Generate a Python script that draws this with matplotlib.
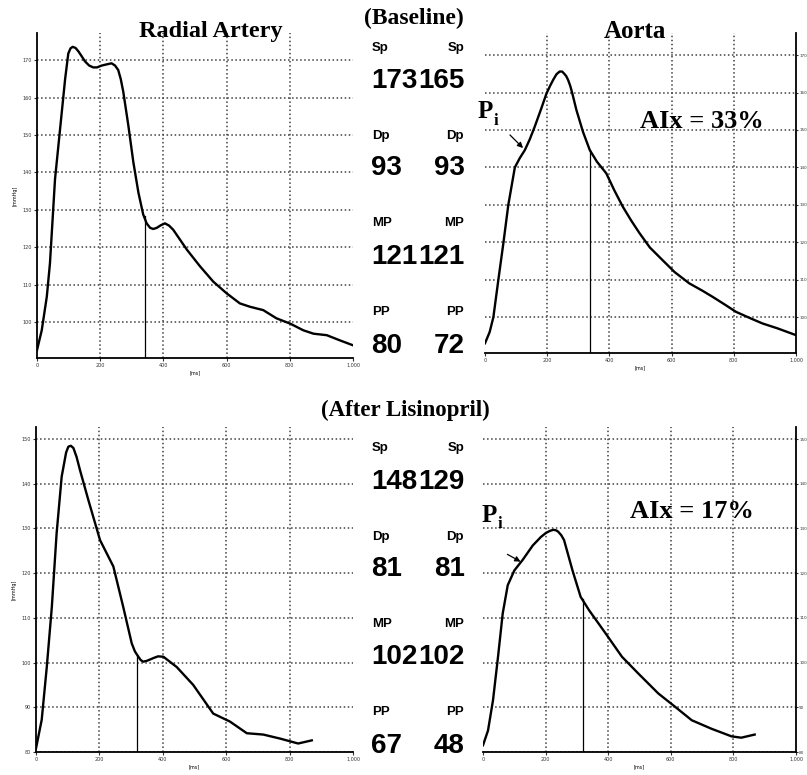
import matplotlib.pyplot as plt

# waveform samples: time [ms], pressure [mmHg]
radial_base_t = [0, 15, 31, 41, 57, 73, 89, 99, 106, 113, 122, 131, 142, 152, 165, 178, 190, 205, 220, 236,
                 247, 257, 265, 273, 289, 305, 321, 336, 347, 358, 368, 379, 392, 405, 418, 431, 474, 516, 558,
                 600, 642, 674, 716, 758, 801, 843, 875, 917, 959, 1000]
radial_base_p = [92.5, 97.8, 106.8, 115.7, 138.2, 151.6, 165, 171.8, 173.2, 173.6, 173.3, 172.4, 171, 169.7,
                 168.6, 168.1, 168.1, 168.6, 168.9, 169.2, 168.6, 167.4, 165, 161.6, 152.6, 142.7, 134.6, 128.8,
                 126.4, 125.2, 124.9, 125.2, 125.9, 126.4, 125.8, 124.7, 119.4, 114.9, 110.8, 107.7, 105,
                 104.1, 103.2, 101, 99.6, 97.8, 96.9, 96.5, 95.1, 93.8]

aorta_base_t = [0, 15, 27, 43, 59, 75, 96, 112, 128, 144, 160, 180, 198, 210, 220, 230, 240, 248, 255, 261,
                267, 274, 280, 294, 315, 337, 360, 390, 415, 443, 470, 497, 530, 571, 610, 657, 700, 732, 770,
                807, 850, 892, 940, 999]
aorta_base_p = [93, 96, 100, 110, 119.7, 130, 140, 142.5, 144.6, 147.5, 150.9, 155.5, 159.8, 161.9, 163.5,
                164.9, 165.6, 165.6, 165, 164.4, 163.4, 161.8, 160, 155.3, 149.5, 144.6, 141.5, 138.4, 134,
                129.5, 125.8, 122.4, 118.6, 115.2, 112, 109, 107, 105.4, 103.4, 101.4, 99.8, 98.3, 97, 95.2]

radial_after_t = [0, 18, 34, 50, 65, 81, 95, 102, 110, 118, 128, 139, 165, 202, 244, 275, 302, 312, 323, 330,
                  338, 350, 370, 385, 402, 444, 496, 559, 612, 665, 717, 770, 827, 870]
radial_after_p = [80.8, 87.2, 99, 112.5, 128.9, 141.6, 147, 148.3, 148.5, 148, 146, 143, 136.4, 127.4,
                  121.5, 112.5, 104.3, 102.5, 101.3, 100.6, 100.2, 100.4, 101, 101.4, 101.3, 99, 95, 88.6,
                  86.8, 84.2, 83.9, 83, 81.9, 82.6]

aorta_after_t = [0, 16, 32, 48, 63, 79, 100, 127, 159, 185, 201, 215, 225, 233, 240, 250, 259, 286, 312,
                 339, 392, 444, 497, 560, 614, 667, 730, 794, 825, 868]
aorta_after_p = [81.5, 84.8, 91.6, 101.3, 111, 117.3, 120.6, 123, 126.2, 128.1, 129, 129.5, 129.7, 129.6,
                 129.3, 128.5, 127.4, 120.6, 114.7, 111.7, 106.5, 101.3, 97.5, 93.1, 90.1, 87.1, 85.2, 83.5,
                 83.2, 83.9]

# foot-of-reflection markers (time, pressure where the line meets the curve)
marker_t = [342, 337, 320, 318]
marker_p = [128.3, 144.6, 101.4, 114.2]

# values printed between the panels
labels = ['Sp', 'Dp', 'MP', 'PP']
base_radial = ['173', '93', '121', '80']
base_aorta = ['165', '93', '121', '72']
after_radial = ['148', '81', '102', '67']
after_aorta = ['129', '81', '102', '48']

W, H = 807, 775
fig = plt.figure(figsize=(W / 100, H / 100), dpi=100)
serif = 'Liberation Serif'
sans = 'Liberation Sans'


def make_axes(x0, y0, x1, y1, ylim, yticks, right):
    ax = fig.add_axes([x0 / W, 1 - y1 / H, (x1 - x0) / W, (y1 - y0) / H])
    ax.set_xlim(0, 1000)
    ax.set_ylim(*ylim)
    ax.set_xticks([0, 200, 400, 600, 800, 1000])
    ax.set_xticklabels(['0', '200', '400', '600', '800', '1,000'])
    ax.set_yticks(yticks)
    for x in [200, 400, 600, 800]:
        ax.axvline(x, color='0.25', ls=':', lw=1.1, zorder=1)
    for y in yticks:
        ax.axhline(y, color='0.25', ls=':', lw=1.1, zorder=1)
    ax.spines['top'].set_visible(False)
    ax.spines['bottom'].set_linewidth(1.3)
    if right:
        ax.spines['left'].set_visible(False)
        ax.spines['right'].set_linewidth(1.3)
        ax.yaxis.tick_right()
        ax.tick_params(axis='y', labelsize=3, length=1.5, pad=0.8)
    else:
        ax.spines['right'].set_visible(False)
        ax.spines['left'].set_linewidth(1.3)
        ax.set_ylabel('[mmHg]', fontsize=3.5, labelpad=4)
        ax.tick_params(axis='y', labelsize=3.5, length=2, pad=1.5)
    ax.tick_params(axis='x', labelsize=3.5, length=2, pad=1.5)
    ax.tick_params(width=0.8, colors='0.2')
    ax.set_xlabel('[ms]', fontsize=3.5, labelpad=2)
    return ax


top_ticks = [100, 110, 120, 130, 140, 150, 160, 170]
bot_ticks = [80, 90, 100, 110, 120, 130, 140, 150]

axes = [
    make_axes(37, 33, 353, 358, (90.4, 177.3), top_ticks, False),
    make_axes(485, 33, 796, 353, (90.4, 175.9), top_ticks, True),
    make_axes(36, 427, 353, 752, (80, 152.7), bot_ticks, False),
    make_axes(483, 427, 796, 752, (80, 152.7), bot_ticks, True),
]
series = [(radial_base_t, radial_base_p), (aorta_base_t, aorta_base_p),
          (radial_after_t, radial_after_p), (aorta_after_t, aorta_after_p)]

for ax, (t, p), mt, mp in zip(axes, series, marker_t, marker_p):
    ax.plot(t, p, color='black', lw=1.7, zorder=3, solid_joinstyle='round')
    ax.plot([mt, mt], [ax.get_ylim()[0], mp], color='black', lw=0.9, zorder=2)


def ftext(x, y, s, **kw):
    fig.text(x / W, 1 - y / H, s, **kw)


ftext(211, 31, 'Radial Artery', family=serif, weight='bold', fontsize=17.5, ha='center', va='center')
ftext(635, 31, 'Aorta', family=serif, weight='bold', fontsize=18, ha='center', va='center')
ftext(414, 18, '(Baseline)', family=serif, weight='bold', fontsize=17, ha='center', va='center')
ftext(405, 410, '(After Lisinopril)', family=serif, weight='bold', fontsize=16.5, ha='center', va='center')

ftext(702, 121, 'AIx = 33%', family=serif, weight='bold', fontsize=19, ha='center', va='center')
ftext(692, 512, 'AIx = 17%', family=serif, weight='bold', fontsize=19, ha='center', va='center')

# P_i labels with arrows
for (px, py), (a0, a1) in [((485, 112), ((508, 133), (525, 150))),
                           ((489, 515), ((505, 553), (523, 563)))]:
    ftext(px, py, 'P', family=serif, weight='bold', fontsize=18, ha='center', va='center')
    ftext(px + 11, py + 9, 'i', family=serif, weight='bold', fontsize=12, ha='center', va='center')
    fig.add_artist(plt.Annotation('', xy=(a1[0] / W, 1 - a1[1] / H), xytext=(a0[0] / W, 1 - a0[1] / H),
                                  xycoords='figure fraction',
                                  arrowprops=dict(arrowstyle='-|>', color='black', lw=0.9,
                                                  mutation_scale=8)))

# number columns
top_label_y = [48, 136, 223, 312]
top_num_y = [81, 168, 257, 346]
bot_label_y = [448, 537, 624, 712]
bot_num_y = [482, 569, 657, 746]

for lab_ys, num_ys, left_vals, right_vals in [(top_label_y, top_num_y, base_radial, base_aorta),
                                              (bot_label_y, bot_num_y, after_radial, after_aorta)]:
    for lab, ly, ny, lv, rv in zip(labels, lab_ys, num_ys, left_vals, right_vals):
        ftext(372, ly, lab, family=sans, weight='bold', fontsize=9.5, ha='left', va='center')
        ftext(464, ly, lab, family=sans, weight='bold', fontsize=9.5, ha='right', va='center')
        ftext(371, ny, lv, family=sans, weight='bold', fontsize=20, ha='left', va='center')
        ftext(465, ny, rv, family=sans, weight='bold', fontsize=20, ha='right', va='center')

fig.savefig('out.png', dpi=100)
